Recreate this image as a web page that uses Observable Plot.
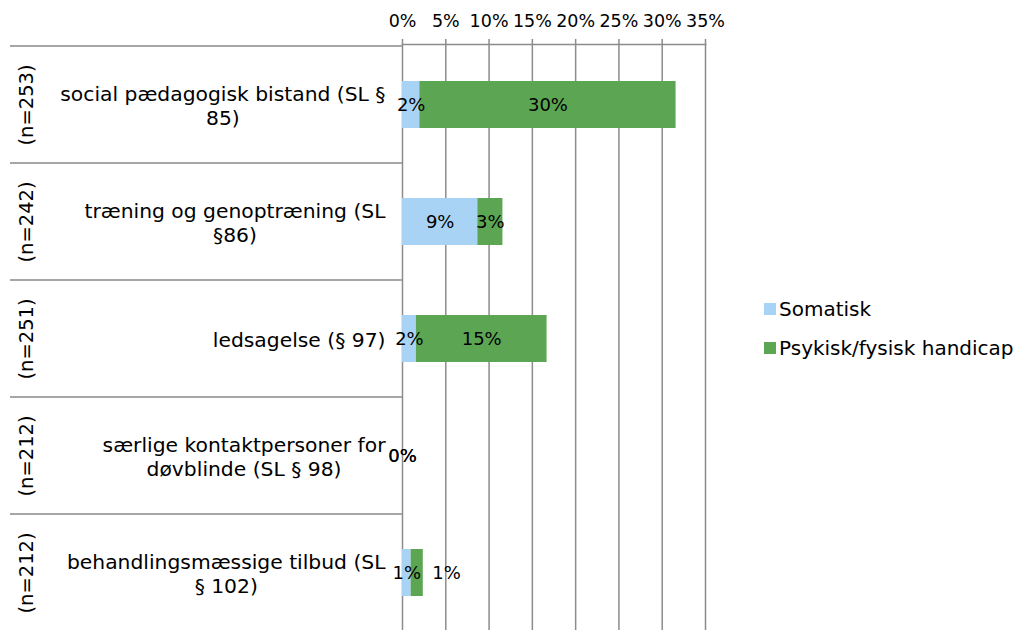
<!DOCTYPE html>
<html>
<head>
<meta charset="utf-8">
<script src="https://cdn.jsdelivr.net/npm/d3@7"></script>
<script src="https://cdn.jsdelivr.net/npm/@observablehq/plot@0.6"></script>
<style>
  html, body { margin: 0; padding: 0; background: #fff; overflow: hidden; }
  #wrap { position: relative; width: 1018px; height: 630px; }
  #legend { position: absolute; left: 764px; top: 295px; font-family: "DejaVu Sans", Verdana, sans-serif; font-size: 20px; color: #000; }
  #legend .item { display: flex; align-items: center; height: 28px; margin-bottom: 11px; white-space: nowrap; }
  #legend .sw { width: 12px; height: 12px; margin-right: 3px; }
</style>
</head>
<body>
<div id="wrap"><div id="legend"></div></div>
<script>
const categories = [
  "social pædagogisk bistand (SL §\n85)",
  "træning og genoptræning (SL\n§86)",
  "ledsagelse (§ 97)",
  "særlige kontaktpersoner for\ndøvblinde (SL § 98)",
  "behandlingsmæssige tilbud (SL\n§ 102)"
];
const groups = ["(n=253)", "(n=242)", "(n=251)", "(n=212)", "(n=212)"];
const seriesNames = ["Somatisk", "Psykisk/fysisk handicap"];
const somatisk = [2.0, 8.7, 1.6, 0, 1.0];
const psykisk = [29.6, 2.9, 15.1, 0, 1.4];
const xTicks = [0, 5, 10, 15, 20, 25, 30, 35];
const colors = ["#a9d3f5", "#5ca552"];

const data = [];
categories.forEach((c, i) => {
  data.push({cat: c, series: seriesNames[0], value: somatisk[i]});
  data.push({cat: c, series: seriesNames[1], value: psykisk[i]});
});

const W = 1018, H = 633, mTop = 44, mLeft = 402, mRight = 313, mBottom = 0;
const step = (H - mTop - mBottom) / categories.length;
const font = '"DejaVu Sans", Verdana, sans-serif';
const catSize = 20.3;
const ctx = document.createElement("canvas").getContext("2d");
ctx.font = `${catSize}px "DejaVu Sans"`;
const labelRight = 385;

const isOutside = d => d.series === seriesNames[1] && d.value > 0 && d.value < 2;
const fmt = d => Math.round(d.value) + "%";

const catMarks = categories.map(c => {
  const w1 = ctx.measureText(c.split("\n")[0]).width;
  return Plot.text([c], {
    y: d => d, frameAnchor: "left", text: d => d,
    textAnchor: "middle", lineHeight: 1.22,
    dx: (labelRight - w1 / 2) - mLeft,
    fontSize: catSize, fill: "#000"
  });
});

const plot = Plot.plot({
  width: W, height: H,
  marginTop: mTop, marginLeft: mLeft, marginRight: mRight, marginBottom: mBottom,
  style: {fontFamily: font, background: "#fff", overflow: "visible"},
  x: {domain: [0, 35], axis: null},
  y: {domain: categories, paddingInner: 0.6, paddingOuter: 0.3, axis: null},
  color: {domain: seriesNames, range: colors},
  marks: [
    Plot.gridX(xTicks, {stroke: "#8c8c8c", strokeOpacity: 1, strokeWidth: 1.5}),
    Plot.axisX(xTicks, {anchor: "top", label: null, tickSize: 6, tickPadding: 12, stroke: "#8c8c8c", strokeWidth: 1.5,
      tickFormat: d => d + "%", fontSize: 17.5, fill: "#000"}),
    Plot.frame({anchor: "top", stroke: "#8c8c8c", strokeWidth: 1.5}),
    Plot.ruleY(categories, {y: d => d, dy: -step / 2, insetLeft: -(mLeft - 10), insetRight: W - mRight - mLeft,
      stroke: "#a6a6a6", strokeWidth: 2}),
    Plot.barX(data, {y: "cat", x: "value", fill: "series"}),
    Plot.text(data, Plot.stackX({y: "cat", x: "value", z: "series",
      text: d => isOutside(d) ? null : fmt(d), fontSize: 18, fill: "#000"})),
    Plot.text(data, Plot.stackX2({y: "cat", x: "value", z: "series",
      text: d => isOutside(d) ? fmt(d) : null, textAnchor: "start", dx: 9, fontSize: 18, fill: "#000"})),
    Plot.text(categories, {y: d => d, frameAnchor: "left", text: (d, i) => groups[i],
      rotate: -90, textAnchor: "middle", dx: 26 - mLeft, fontSize: 19.5, fill: "#000"}),
    ...catMarks
  ]
});
document.getElementById("wrap").prepend(plot);

const legend = document.getElementById("legend");
seriesNames.forEach((s, i) => {
  const item = document.createElement("div");
  item.className = "item";
  const sw = document.createElement("span");
  sw.className = "sw";
  sw.style.background = colors[i];
  const t = document.createElement("span");
  t.textContent = s;
  item.append(sw, t);
  legend.append(item);
});
</script>
</body>
</html>
